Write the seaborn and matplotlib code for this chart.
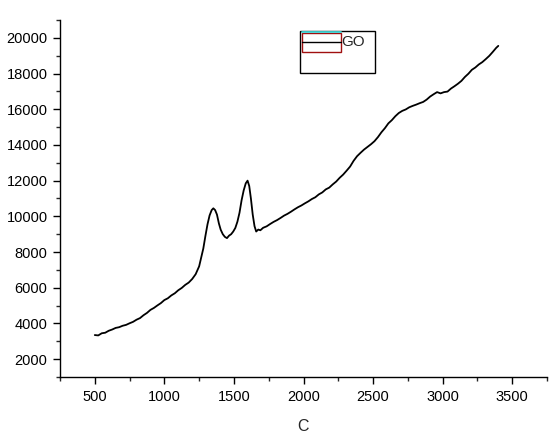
import numpy as np
import pandas as pd
import seaborn as sns
import matplotlib.pyplot as plt
from matplotlib.lines import Line2D
from matplotlib.patches import Rectangle

# values
wavenumber = [500, 525, 550, 575, 600, 625, 650, 675, 700, 725, 750, 775, 800, 825, 850,
              875, 900, 925, 950, 975, 1000, 1025, 1050, 1075, 1100, 1125, 1150, 1175,
              1200, 1225, 1250, 1265, 1280, 1295, 1310, 1325, 1340, 1352, 1365, 1378,
              1392, 1405, 1420, 1435, 1450, 1465, 1480, 1495, 1510, 1525, 1540, 1555,
              1570, 1585, 1598, 1610, 1622, 1635, 1648, 1660, 1675, 1690, 1710, 1735,
              1760, 1785, 1810, 1835, 1860, 1885, 1910, 1935, 1960, 1985, 2010, 2035,
              2060, 2085, 2110, 2135, 2160, 2185, 2210, 2235, 2260, 2285, 2310, 2335,
              2360, 2385, 2410, 2435, 2460, 2485, 2510, 2535, 2560, 2585, 2610, 2635,
              2660, 2685, 2710, 2735, 2760, 2785, 2810, 2835, 2860, 2885, 2910, 2935,
              2960, 2985, 3010, 3035, 3060, 3085, 3110, 3135, 3160, 3185, 3210, 3235,
              3260, 3285, 3310, 3335, 3360, 3385, 3400]
intensity = [3350, 3330, 3450, 3480, 3590, 3660, 3750, 3790, 3870, 3920, 4010, 4090, 4210,
             4300, 4460, 4590, 4760, 4870, 5010, 5140, 5310, 5410, 5570, 5690, 5860, 5990,
             6160, 6290, 6490, 6760, 7200, 7700, 8200, 8900, 9550, 10050, 10350, 10450,
             10350, 10100, 9600, 9250, 9000, 8850, 8780, 8920, 9000, 9150, 9350, 9700,
             10200, 10900, 11450, 11850, 12000, 11700, 11000, 10100, 9450, 9150, 9260,
             9220, 9360, 9440, 9570, 9690, 9790, 9910, 10040, 10140, 10260, 10390, 10510,
             10610, 10730, 10840, 10970, 11070, 11230, 11340, 11510, 11610, 11790, 11950,
             12160, 12340, 12560, 12790, 13110, 13370, 13560, 13740, 13890, 14040, 14210,
             14440, 14710, 14940, 15210, 15390, 15610, 15790, 15910, 15990, 16110, 16190,
             16260, 16340, 16410, 16540, 16710, 16840, 16960, 16890, 16960, 16990, 17160,
             17290, 17430, 17590, 17810, 17990, 18210, 18340, 18510, 18640, 18810, 18990,
             19210, 19440, 19550]
x_ticks = [500, 1000, 1500, 2000, 2500, 3000, 3500]
y_ticks = [2000, 4000, 6000, 8000, 10000, 12000, 14000, 16000, 18000, 20000]
series_name = "GO"

df = pd.DataFrame({"C": wavenumber, "I": intensity})

sns.set_style("ticks")
plt.rcParams["font.family"] = ["Liberation Sans", "DejaVu Sans"]

fig = plt.figure(figsize=(5.58, 4.44), dpi=100)
ax = fig.add_axes([60 / 558, 1 - 377 / 444, 487 / 558, 357 / 444])

sns.lineplot(data=df, x="C", y="I", color="black", linewidth=1.3, ax=ax)

ax.set_xlim(250, 3750)
ax.set_ylim(1000, 21000)
ax.set_xticks(x_ticks)
ax.set_yticks(y_ticks)
ax.set_xticks(np.arange(250, 3751, 500), minor=True)
ax.set_yticks(np.arange(1000, 21001, 2000), minor=True)
ax.tick_params(which="major", direction="out", length=5, width=1, labelsize=10.5,
               colors="black", pad=4)
ax.tick_params(which="minor", direction="out", length=3, width=1)
ax.set_xlabel("C", fontsize=11.5, labelpad=11)
ax.set_ylabel("")
sns.despine(ax=ax)
for sp in ["left", "bottom"]:
    ax.spines[sp].set_linewidth(1)
    ax.spines[sp].set_color("black")

# Origin style legend box
px = lambda x, y: (x / 558, 1 - y / 444)
fig.patches.append(Rectangle(px(300, 73), 75 / 558, 42 / 444, transform=fig.transFigure,
                             fill=False, edgecolor="black", linewidth=1))
fig.patches.append(Rectangle(px(302, 52), 39 / 558, 19 / 444, transform=fig.transFigure,
                             fill=False, edgecolor="#a01010", linewidth=1))
fig.lines.append(Line2D([302 / 558, 341 / 558], [1 - 32.5 / 444] * 2, transform=fig.transFigure,
                        color="#40d8d8", linewidth=1.3, zorder=5))
fig.lines.append(Line2D([302 / 558, 341 / 558], [1 - 42 / 444] * 2, transform=fig.transFigure,
                        color="black", linewidth=1, zorder=5))
fig.text(341 / 558, 1 - 42 / 444, series_name, fontsize=11, va="center", ha="left")

fig.savefig("out.png", dpi=100)
